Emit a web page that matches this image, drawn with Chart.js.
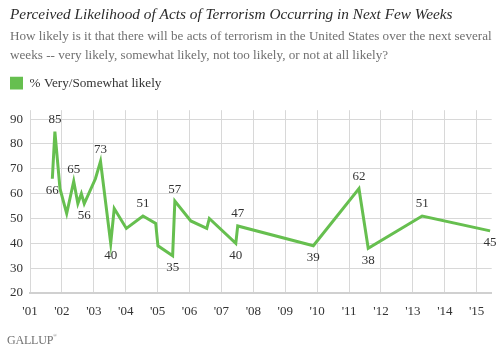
<!DOCTYPE html>
<html><head><meta charset="utf-8">
<script src="https://cdn.jsdelivr.net/npm/chart.js@4"></script>
<style>
html,body{margin:0;padding:0;background:#fff;width:498px;height:355px;overflow:hidden}
#wrap{position:absolute;left:0;top:0;width:498px;height:355px}
#logo{position:absolute;left:7px;top:333px;font-family:"Liberation Serif",serif;font-size:12px;line-height:14px;color:#707070;letter-spacing:-0.2px}
#logo sup{font-size:5px;vertical-align:7px;line-height:0}
</style></head><body>
<div id="wrap"><canvas id="c" width="498" height="355"></canvas></div>
<div id="logo">GALLUP<sup>®</sup></div>
<script>
// ---- data ----
const titleText = "Perceived Likelihood of Acts of Terrorism Occurring in Next Few Weeks";
const subtitleLines = [
  "How likely is it that there will be acts of terrorism in the United States over the next several",
  "weeks -- very likely, somewhat likely, not too likely, or not at all likely?"
];
const seriesName = "% Very/Somewhat likely";
const surveyDates = [2001.70, 2001.78, 2001.94, 2002.15, 2002.37, 2002.50, 2002.61, 2002.70,
  2003.05, 2003.21, 2003.53, 2003.64, 2004.02, 2004.54, 2004.94, 2005.01, 2005.47, 2005.54,
  2006.04, 2006.54, 2006.62, 2007.45, 2007.51, 2009.88, 2011.31, 2011.60, 2013.29, 2015.42];
const pctLikely = [66, 85, 62, 52, 65, 56, 60, 56,
  66, 73, 40, 54, 46, 51, 48, 39, 35, 57,
  49, 46, 50, 40, 47, 39, 62, 38, 51, 45];
const labelPlacement = ['below','above',null,null,'above',null,null,'below',
  null,'above','below',null,null,'above',null,null,'below','above',
  null,null,null,'below','above','below','above','below','above','below'];
const yearTicks = [2001,2002,2003,2004,2005,2006,2007,2008,2009,2010,2011,2012,2013,2014,2015];
const yTicks = [20,30,40,50,60,70,80,90];

// ---- style ----
const GREEN = '#66bf4f';
const SERIF = '"Liberation Serif", "Times New Roman", serif';
function fitSize(text, style, target){
  const c = document.createElement('canvas').getContext('2d');
  c.font = style + ' 100px ' + SERIF;
  return 100 * target / c.measureText(text).width;
}
const titleSize = fitSize(titleText, 'italic', 443);
const subSize = fitSize(subtitleLines[0], 'normal', 483);
const legendSize = fitSize(seriesName, 'normal', 132);

const legendGap = {
  id: 'legendGap',
  beforeLayout(chart){
    const lg = chart.legend;
    if (lg && !lg._gapPatched){
      const f = lg.fit.bind(lg);
      lg.fit = function(){ f(); this.height += 10.5; };
      lg._gapPatched = true;
    }
  }
};
const valueLabels = {
  id: 'valueLabels',
  afterDatasetsDraw(chart){
    const meta = chart.getDatasetMeta(0);
    const ctx = chart.ctx;
    ctx.save();
    ctx.font = '13px ' + SERIF;
    ctx.fillStyle = '#333';
    ctx.textAlign = 'center';
    ctx.textBaseline = 'middle';
    labelPlacement.forEach((p, i) => {
      if (!p) return;
      const pt = meta.data[i];
      ctx.fillText(String(pctLikely[i]), pt.x, pt.y + (p === 'above' ? -12 : 12));
    });
    ctx.restore();
  }
};

new Chart(document.getElementById('c'), {
  type: 'line',
  data: {
    datasets: [{
      label: seriesName,
      data: surveyDates.map((x, i) => ({x: x, y: pctLikely[i]})),
      borderColor: GREEN,
      backgroundColor: GREEN,
      borderWidth: 3,
      pointRadius: 0,
      tension: 0,
      fill: false,
      borderJoinStyle: 'miter'
    }]
  },
  options: {
    responsive: false,
    animation: false,
    devicePixelRatio: 1,
    layout: { padding: { left: 10, right: 6.3, top: 0, bottom: 0 } },
    plugins: {
      title: {
        display: true, text: titleText, align: 'start', color: '#2b2b2b',
        font: { family: SERIF, style: 'italic', size: titleSize, lineHeight: '18px', weight: 'normal' },
        padding: { top: 6, bottom: 3 }
      },
      subtitle: {
        display: true, text: subtitleLines, align: 'start', color: '#707070',
        font: { family: SERIF, size: subSize, lineHeight: '19.3px' },
        padding: { top: 0, bottom: 10.9 }
      },
      legend: {
        display: true, position: 'top', align: 'start',
        labels: {
          boxWidth: 13, boxHeight: 13, padding: 0, color: '#333',
          font: { family: SERIF, size: legendSize },
          generateLabels(chart){
            const items = Chart.defaults.plugins.legend.labels.generateLabels(chart);
            items.forEach(it => { it.lineWidth = 0; it.strokeStyle = 'rgba(0,0,0,0)'; it.fillStyle = GREEN; });
            return items;
          }
        }
      },
      tooltip: { enabled: false }
    },
    scales: {
      x: {
        type: 'linear', min: 2001, max: 2015.47,
        afterBuildTicks(scale){ scale.ticks = yearTicks.map(v => ({value: v})); },
        afterFit(scale){ scale.height = 62; },
        ticks: {
          autoSkip: false, maxRotation: 0, padding: 11, color: '#333',
          font: { family: SERIF, size: 13 },
          callback: v => "'" + String(v).slice(2)
        },
        grid: { color: '#d8d8d8', lineWidth: 1, drawTicks: false },
        border: { display: true, color: '#d0d0d0', width: 2 }
      },
      y: {
        type: 'linear', min: 20, max: 93.6,
        afterBuildTicks(scale){ scale.ticks = yTicks.map(v => ({value: v})); },
        afterFit(scale){ scale.width = 20; },
        ticks: { padding: 7, color: '#333', font: { family: SERIF, size: 13 }, callback: v => String(v) },
        grid: { color: '#d8d8d8', lineWidth: 1, drawTicks: false },
        border: { display: false }
      }
    }
  },
  plugins: [legendGap, valueLabels]
});
</script>
</body></html>
